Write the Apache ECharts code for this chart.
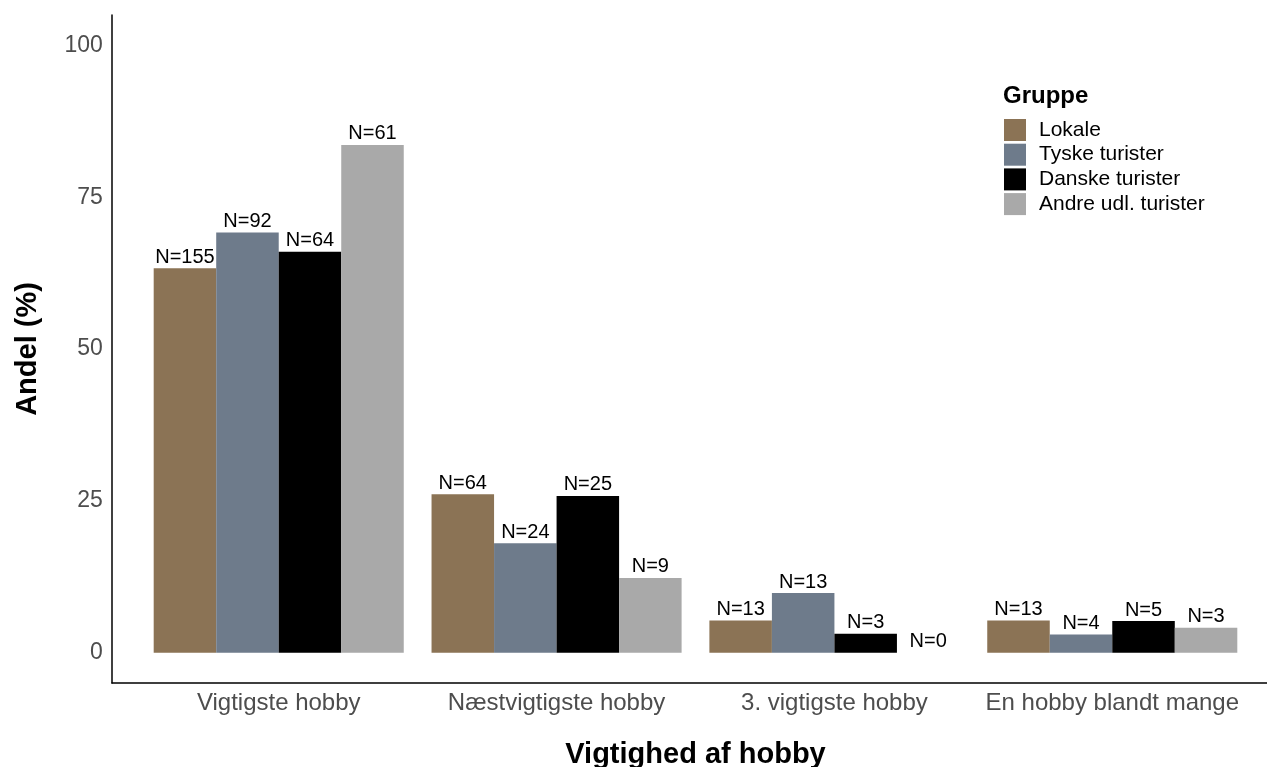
<!DOCTYPE html>
<html>
<head>
<meta charset="utf-8">
<script src="https://cdn.jsdelivr.net/npm/echarts@6/dist/echarts.min.js"></script>
<style>
  html, body { margin: 0; padding: 0; background: #fff; }
  #main { width: 1267px; height: 767px; }
</style>
</head>
<body>
<div id="main"></div>
<script>
// kategorier og grupper
var categories = ['Vigtigste hobby', 'Næstvigtigste hobby', '3. vigtigste hobby', 'En hobby blandt mange'];
var groups = ['Lokale', 'Tyske turister', 'Danske turister', 'Andre udl. turister'];
var groupColors = ['#8B7355', '#6E7B8B', '#000000', '#A9A9A9'];

// andel (%)
var lokale = [63.3, 26.1, 5.3, 5.3];
var tyske = [69.2, 18.0, 9.8, 3.0];
var danske = [66.0, 25.8, 3.1, 5.2];
var andre = [83.6, 12.3, 0, 4.1];

// antal (N) til labels
var lokaleN = [155, 64, 13, 13];
var tyskeN = [92, 24, 13, 4];
var danskeN = [64, 25, 3, 5];
var andreN = [61, 9, 0, 3];

var yTicks = [0, 25, 50, 75, 100];

var values = [lokale, tyske, danske, andre];
var counts = [lokaleN, tyskeN, danskeN, andreN];

var font = '"Liberation Sans", Arial, sans-serif';
var myChart = echarts.init(document.getElementById('main'));

var series = groups.map(function (g, i) {
  return {
    name: g,
    type: 'bar',
    data: values[i],
    barGap: '0%',
    barCategoryGap: '10%',
    itemStyle: { color: groupColors[i] },
    label: {
      show: true,
      position: 'top',
      distance: 1,
      color: '#000',
      fontSize: 20,
      fontFamily: font,
      formatter: function (p) { return 'N=' + counts[i][p.dataIndex]; }
    },
    emphasis: { disabled: true }
  };
});

var option = {
  backgroundColor: '#fff',
  animation: false,
  textStyle: { fontFamily: font },
  title: {
    text: 'Gruppe',
    left: 1003,
    top: 84,
    padding: 0,
    textStyle: { fontSize: 24, fontWeight: 'bold', color: '#000', fontFamily: font }
  },
  legend: {
    orient: 'vertical',
    left: 1004,
    top: 119,
    padding: 0,
    itemWidth: 22,
    itemHeight: 22,
    itemGap: 2.7,
    icon: 'rect',
    selectedMode: false,
    data: groups,
    textStyle: { fontSize: 21, color: '#000', fontFamily: font, padding: [0, 0, 0, 8] }
  },
  // grid 0: data (ggplot-agtig 0.6 enheds udvidelse), grid 1: akselinjer
  grid: [
    { left: 139.8, right: 15.8, top: 15, bottom: 84, containLabel: false, outerBoundsMode: 'none' },
    { left: 112, right: 0, top: 15, bottom: 84, containLabel: false, outerBoundsMode: 'none' }
  ],
  xAxis: [
    {
      type: 'category',
      gridIndex: 0,
      data: categories,
      name: 'Vigtighed af hobby',
      nameLocation: 'middle',
      nameGap: 57,
      nameTextStyle: { fontSize: 29, fontWeight: 'bold', color: '#000', fontFamily: font },
      axisLine: { show: false, onZero: false },
      axisTick: { show: false },
      axisLabel: { interval: 0, color: '#4d4d4d', fontSize: 24, margin: 8, fontFamily: font }
    },
    {
      type: 'value',
      gridIndex: 1,
      axisLine: { show: true, onZero: false, lineStyle: { color: '#000', width: 1.5 } },
      axisTick: { show: false },
      axisLabel: { show: false },
      splitLine: { show: false }
    }
  ],
  yAxis: [
    {
      type: 'value',
      gridIndex: 0,
      min: -5,
      max: 105,
      name: 'Andel (%)',
      nameLocation: 'middle',
      nameGap: 97,
      nameTextStyle: { fontSize: 29, fontWeight: 'bold', color: '#000', fontFamily: font },
      axisLine: { show: false },
      axisTick: { show: false },
      splitLine: { show: false },
      axisLabel: {
        color: '#4d4d4d',
        fontSize: 23,
        margin: 37,
        fontFamily: font,
        customValues: yTicks
      }
    },
    {
      type: 'value',
      gridIndex: 1,
      axisLine: { show: true, onZero: false, lineStyle: { color: '#000', width: 1.5 } },
      axisTick: { show: false },
      axisLabel: { show: false },
      splitLine: { show: false }
    }
  ],
  series: series
};

myChart.setOption(option);
</script>
</body>
</html>
